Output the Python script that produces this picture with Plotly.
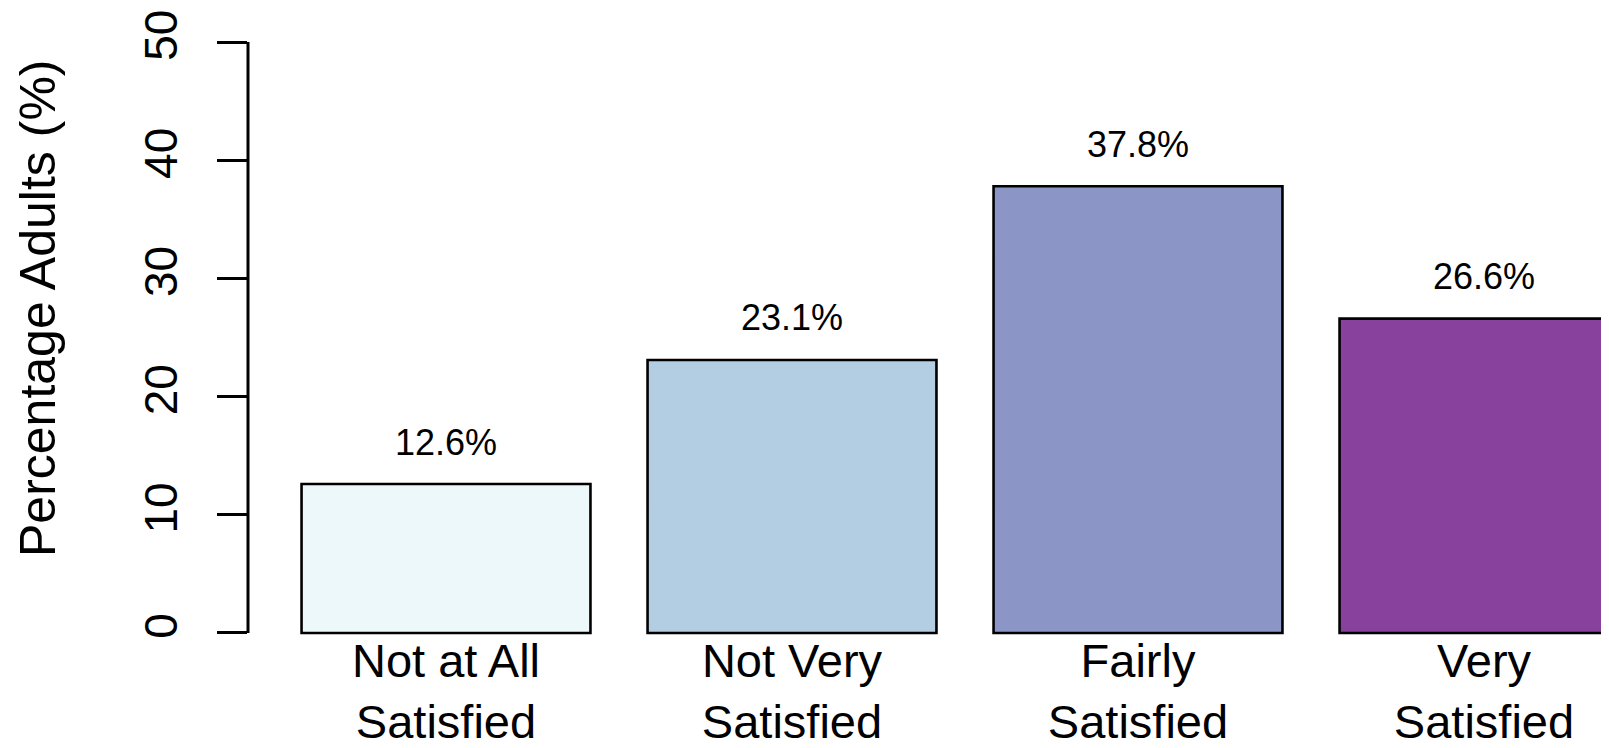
import plotly.graph_objects as go

categories = ["Not at All<br>Satisfied", "Not Very<br>Satisfied", "Fairly<br>Satisfied", "Very<br>Satisfied"]
values = [12.6, 23.1, 37.8, 26.6]
bar_colors = ["#EDF8FB", "#B3CDE3", "#8C96C6", "#88419D"]
y_ticks = [0, 10, 20, 30, 40, 50]
y_title = "Percentage Adults (%)"

FONT = "Liberation Sans, Arial, sans-serif"
# the page body has an 8px default margin; compensate so the picture lands at the window origin
OFF = 8
W, H = 1609 - OFF, 748 - OFF
L = 248 - OFF  # left margin -> y axis line at window x=248
PW = W - L

def py(Y):
    """window pixel row -> paper fraction"""
    return (H - (Y - OFF)) / H

def px(X):
    """window pixel column -> paper fraction (relative to plot area)"""
    return (X - OFF - L) / PW

fig = go.Figure()
fig.add_trace(go.Bar(
    x=list(range(len(categories))), y=values,
    width=0.835,
    marker=dict(color=bar_colors, line=dict(color="black", width=2.6)),
    showlegend=False, hoverinfo="skip",
))

for i, v in enumerate(values):
    fig.add_annotation(x=i, y=v, xref="x", yref="y", text=f"{v:.1f}%",
                       showarrow=False, yanchor="middle", yshift=42,
                       font=dict(family=FONT, size=36, color="black"))

fig.add_annotation(x=px(38), y=py(308), xref="paper", yref="paper",
                   text=y_title, textangle=-90, showarrow=False,
                   xanchor="center", yanchor="middle",
                   font=dict(family=FONT, size=50, color="black"))

# y axis line spanning only the tick range
fig.add_shape(type="line", xref="paper", yref="y", x0=0, x1=0,
              y0=y_ticks[0], y1=y_ticks[-1], line=dict(color="black", width=3))

fig.update_layout(
    width=W, height=H,
    margin=dict(l=L, r=0, t=0, b=0),
    paper_bgcolor="white", plot_bgcolor="white",
    xaxis=dict(
        range=[(248 - 446) / 346, (1609 - 446) / 346],
        tickmode="array", tickvals=list(range(len(categories))), ticktext=categories,
        showgrid=False, zeroline=False, showline=False, ticks="",
        anchor="free", position=py(629),
        tickfont=dict(family=FONT, size=47, color="black"),
        automargin=False,
    ),
    yaxis=dict(
        range=[-2, 52], domain=[py(656.6), py(18.4)],
        tickmode="array", tickvals=y_ticks,
        showgrid=False, zeroline=False, showline=False,
        ticks="outside", ticklen=30, tickwidth=3, tickcolor="black",
        tickangle=-90, ticklabelstandoff=22,
        tickfont=dict(family=FONT, size=46, color="black"),
        automargin=False,
    ),
)

fig.write_html("out.html")
